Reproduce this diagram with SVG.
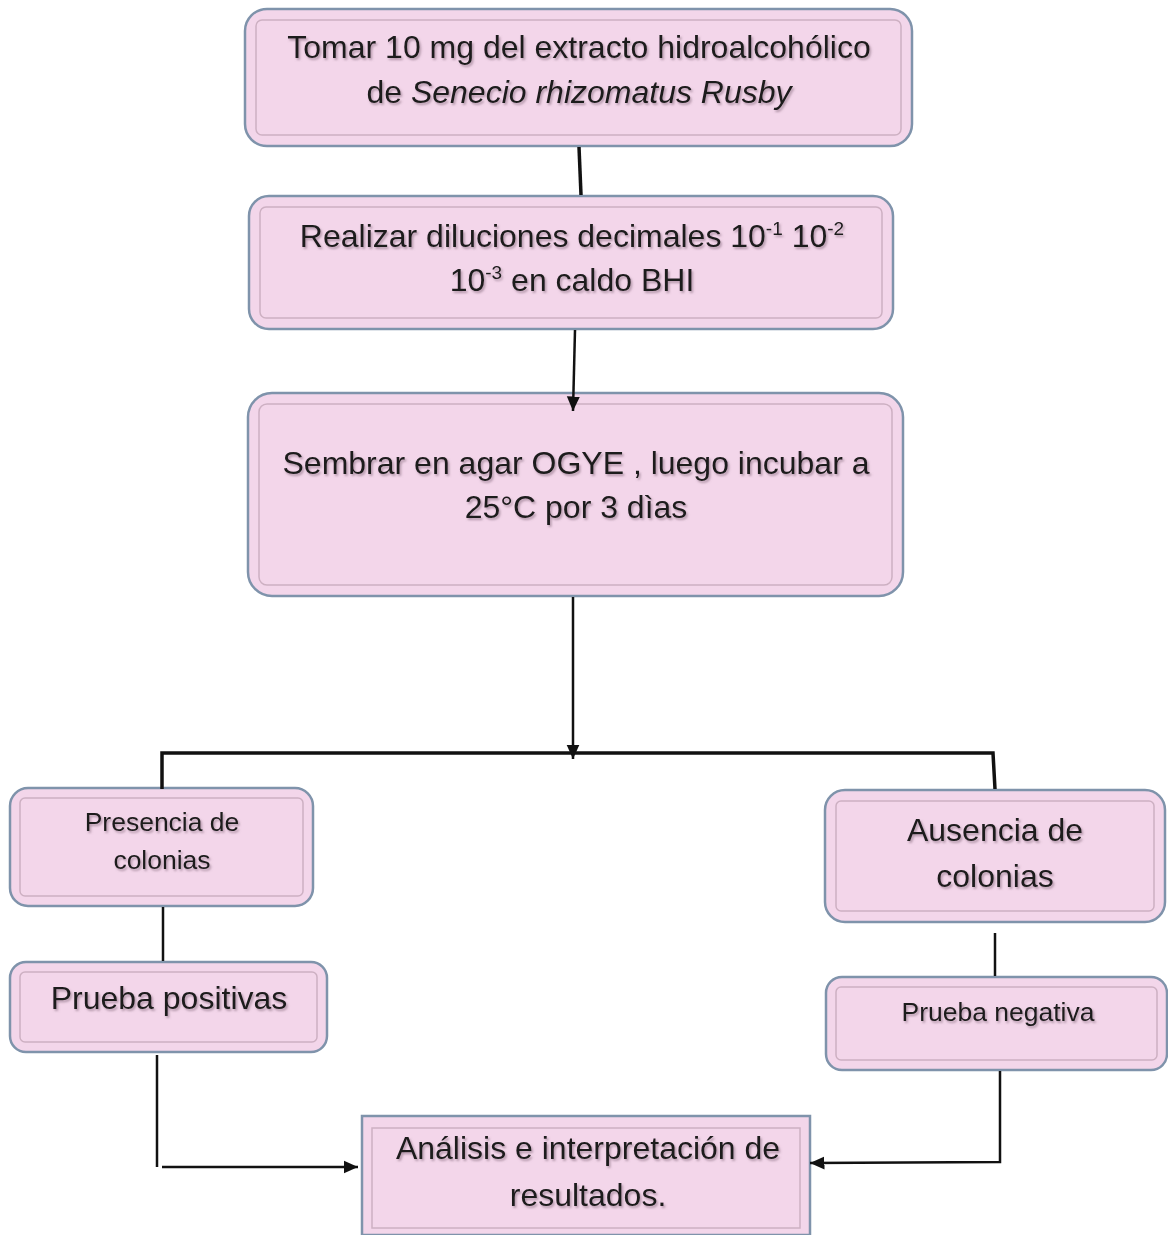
<svg xmlns="http://www.w3.org/2000/svg" width="1168" height="1235" viewBox="0 0 1168 1235">
<defs>
<style>
.box{fill:#f3d6ea;stroke:#7f93ab;stroke-width:2.5}
.inner{fill:none;stroke:#cdb0c2;stroke-width:1.5}
.t{font-family:"Liberation Sans",Arial,sans-serif;fill:#1a1a1a;text-anchor:middle;filter:url(#sh)}
.ln{stroke:#111;stroke-width:2.5;fill:none}
.lnb{stroke:#111;stroke-width:3.5;fill:none}
</style>
<filter id="sh" x="-5%" y="-20%" width="110%" height="140%">
<feDropShadow dx="1.5" dy="2" stdDeviation="1" flood-color="#7a6070" flood-opacity="0.55"/>
</filter>
<marker id="ah" viewBox="0 0 10 10" refX="10" refY="5" markerWidth="5.8" markerHeight="5.8" orient="auto" markerUnits="strokeWidth">
<path d="M0,0.5 L10,5 L0,9.5 z" fill="#111"/>
</marker>
</defs>
<rect width="1168" height="1235" fill="#fff"/>

<g id="n1">
<rect class="box" x="245" y="9" width="667" height="137" rx="22"/>
<rect class="inner" x="256" y="20" width="645" height="115" rx="6"/>
<text class="t" x="579" y="58" font-size="32">Tomar 10 mg del extracto hidroalcohólico</text>
<text class="t" x="579" y="103" font-size="32">de <tspan font-style="italic">Senecio rhizomatus Rusby</tspan></text>
</g>

<g id="n2">
<rect class="box" x="249" y="196" width="644" height="133" rx="20"/>
<rect class="inner" x="260" y="207" width="622" height="111" rx="6"/>
<text class="t" x="572" y="247" font-size="32">Realizar diluciones decimales 10<tspan font-size="19" dy="-12">-1</tspan><tspan dy="12"> 10</tspan><tspan font-size="19" dy="-12">-2</tspan></text>
<text class="t" x="572" y="291" font-size="32">10<tspan font-size="19" dy="-12">-3</tspan><tspan dy="12"> en caldo BHI</tspan></text>
</g>

<g id="n3">
<rect class="box" x="248" y="393" width="655" height="203" rx="24"/>
<rect class="inner" x="259" y="404" width="633" height="181" rx="8"/>
<text class="t" x="576" y="474" font-size="32">Sembrar en agar OGYE , luego incubar a</text>
<text class="t" x="576" y="518" font-size="32">25°C por 3 dìas</text>
</g>

<g id="n4">
<rect class="box" x="10" y="788" width="303" height="118" rx="18"/>
<rect class="inner" x="20" y="798" width="283" height="98" rx="5"/>
<text class="t" x="162" y="831" font-size="26.5">Presencia de</text>
<text class="t" x="162" y="869" font-size="26.5">colonias</text>
</g>

<g id="n5">
<rect class="box" x="10" y="962" width="317" height="90" rx="16"/>
<rect class="inner" x="20" y="972" width="297" height="70" rx="5"/>
<text class="t" x="169" y="1009" font-size="32">Prueba positivas</text>
</g>

<g id="n6">
<rect class="box" x="825" y="790" width="340" height="132" rx="20"/>
<rect class="inner" x="836" y="801" width="318" height="110" rx="5"/>
<text class="t" x="995" y="841" font-size="32">Ausencia de</text>
<text class="t" x="995" y="887" font-size="32">colonias</text>
</g>

<g id="n7">
<rect class="box" x="826" y="977" width="341" height="93" rx="16"/>
<rect class="inner" x="836" y="987" width="321" height="73" rx="5"/>
<text class="t" x="998" y="1021" font-size="26.5">Prueba negativa</text>
</g>

<g id="n8">
<rect class="box" x="362" y="1116" width="448" height="119" rx="0"/>
<rect class="inner" x="372" y="1128" width="428" height="100" rx="0"/>
<text class="t" x="588" y="1159" font-size="32">Análisis e interpretación de</text>
<text class="t" x="588" y="1206" font-size="32">resultados.</text>
</g>

<g id="connectors">
<line class="lnb" x1="579" y1="147" x2="581" y2="195"/>
<line class="ln" x1="575" y1="330" x2="573" y2="411" marker-end="url(#ah)"/>
<line class="ln" x1="573" y1="597" x2="573" y2="759" marker-end="url(#ah)"/>
<polyline class="lnb" points="162,789 162,753 993,753 995,789"/>
<line class="ln" x1="163" y1="907" x2="163" y2="961"/>
<line class="ln" x1="995" y1="933" x2="995" y2="976"/>
<line class="ln" x1="157" y1="1055" x2="157" y2="1167"/>
<line class="ln" x1="162" y1="1167" x2="358" y2="1167" marker-end="url(#ah)"/>
<polyline class="ln" points="1000,1071 1000,1162 810,1163" marker-end="url(#ah)"/>
</g>
</svg>
